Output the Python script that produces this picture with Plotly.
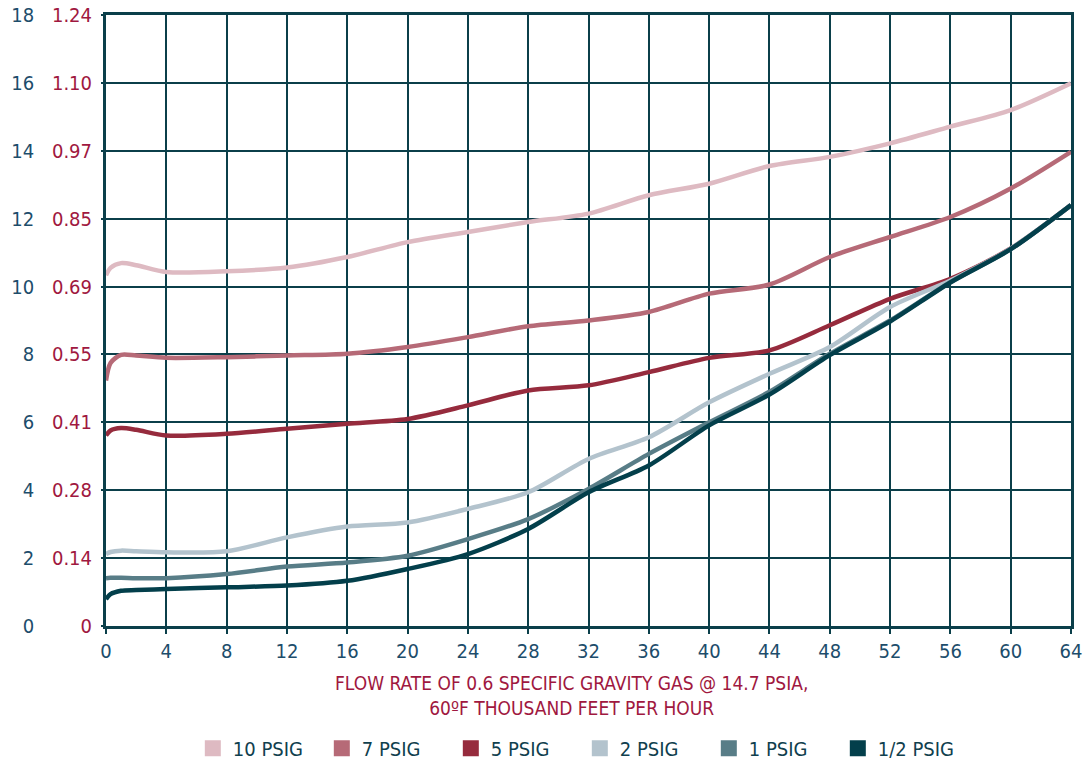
import plotly.graph_objects as go

# ---- data ----
x_vals = [0, 0.3, 1, 2, 4, 8, 12, 16, 20, 24, 28, 32, 36, 40, 44, 48, 52, 56, 60, 64]
psig10 = [10.33, 10.55, 10.69, 10.63, 10.43, 10.45, 10.56, 10.87, 11.31, 11.61, 11.90, 12.15, 12.69, 13.03, 13.55, 13.82, 14.22, 14.71, 15.20, 15.99]
psig7 = [7.23, 7.75, 7.99, 7.97, 7.90, 7.92, 7.97, 8.02, 8.22, 8.51, 8.83, 9.00, 9.25, 9.79, 10.06, 10.87, 11.46, 12.05, 12.89, 13.97]
psig5 = [5.61, 5.76, 5.83, 5.78, 5.61, 5.66, 5.81, 5.96, 6.10, 6.50, 6.94, 7.09, 7.48, 7.90, 8.12, 8.86, 9.64, 10.23, 11.12, 12.40]
psig2 = [2.12, 2.18, 2.22, 2.20, 2.17, 2.20, 2.61, 2.93, 3.05, 3.45, 3.94, 4.92, 5.56, 6.59, 7.43, 8.22, 9.40, 10.18, 11.12, 12.40]
psig1 = [1.41, 1.42, 1.42, 1.41, 1.41, 1.53, 1.75, 1.87, 2.07, 2.56, 3.15, 4.04, 5.07, 6.00, 6.90, 8.02, 9.00, 10.13, 11.10, 12.40]
psig_half = [0.79, 0.94, 1.04, 1.06, 1.09, 1.14, 1.19, 1.33, 1.68, 2.12, 2.86, 3.94, 4.73, 5.91, 6.82, 7.98, 8.97, 10.12, 11.10, 12.40]

series_names = ["10 PSIG", "7 PSIG", "5 PSIG", "2 PSIG", "1 PSIG", "1/2 PSIG"]
series_vals = [psig10, psig7, psig5, psig2, psig1, psig_half]
series_colors = ["#DEBAC2", "#B66A77", "#962B3D", "#B3C3CD", "#587D87", "#033F4B"]

x_ticks = list(range(0, 65, 4))
y_ticks = list(range(0, 19, 2))
y2_text = ["0", "0.14", "0.28", "0.41", "0.55", "0.69", "0.85", "0.97", "1.10", "1.24"]

x_title = "FLOW RATE OF 0.6 SPECIFIC GRAVITY GAS @ 14.7 PSIA,<br>60ºF THOUSAND FEET PER HOUR"

FONT = "Liberation Sans Narrow, DejaVu Sans Condensed, Arial Narrow, sans-serif"
GRID = "#0B3F4A"
BLUE_TXT = "#1D4D6B"
RED_TXT = "#A01840"

fig = go.Figure()
for name, vals, col in zip(series_names, series_vals, series_colors):
    fig.add_trace(go.Scatter(x=x_vals, y=vals, mode="lines", name=name,
                             line=dict(color=col, width=4.5, shape="spline", smoothing=0.8),
                             showlegend=False, hoverinfo="skip"))
# legend swatches
for name, col in zip(series_names, series_colors):
    fig.add_trace(go.Scatter(x=[None], y=[None], mode="markers", name=name,
                             marker=dict(symbol="square", size=19, color=col),
                             showlegend=True))

# invisible trace for second (left) axis
fig.add_trace(go.Scatter(x=[None], y=[None], yaxis="y2", showlegend=False))

fig.update_layout(
    width=1086, height=764,
    margin=dict(l=106, r=15, t=15, b=138, autoexpand=False),
    paper_bgcolor="white", plot_bgcolor="white",
    font=dict(family=FONT, size=20, color=BLUE_TXT),
    xaxis=dict(range=[0, 64], tickvals=x_ticks, showgrid=True, gridcolor=GRID, gridwidth=2,
               showline=True, linecolor=GRID, linewidth=2.5, mirror=True, automargin=False,
               ticks="outside", ticklen=5, tickcolor=GRID, tickwidth=2,
               tickfont=dict(family=FONT, size=20, color=BLUE_TXT), zeroline=False),
    yaxis=dict(range=[0, 18], tickvals=y_ticks, showgrid=True, gridcolor=GRID, gridwidth=2,
               showline=True, linecolor=GRID, linewidth=2.5, mirror=True, automargin=False,
               ticks="", ticklabelstandoff=65,
               tickfont=dict(family=FONT, size=20, color=BLUE_TXT), zeroline=False),
    yaxis2=dict(range=[0, 18], tickvals=y_ticks, ticktext=y2_text, overlaying="y",
                side="left", anchor="free", position=0, showgrid=False, showline=False,
                automargin=False,
                ticks="outside", ticklen=5, tickcolor=GRID, tickwidth=2, ticklabelstandoff=5,
                tickfont=dict(family=FONT, size=20, color=RED_TXT), zeroline=False),
    legend=dict(orientation="h", x=0.491, xanchor="center", y=-0.2, yanchor="middle",
                font=dict(family=FONT, size=20, color="#10404E"),
                entrywidth=84, entrywidthmode="pixels",
                itemsizing="trace", bgcolor="rgba(0,0,0,0)"),
    annotations=[dict(text=x_title, xref="paper", yref="paper", x=0.482, y=-0.113,
                      xanchor="center", yanchor="middle", showarrow=False,
                      font=dict(family=FONT, size=19, color=RED_TXT))],
)

fig.write_html("out.html", config={"displayModeBar": False},
               post_script="document.body.style.margin='0';document.body.style.padding='0';")
